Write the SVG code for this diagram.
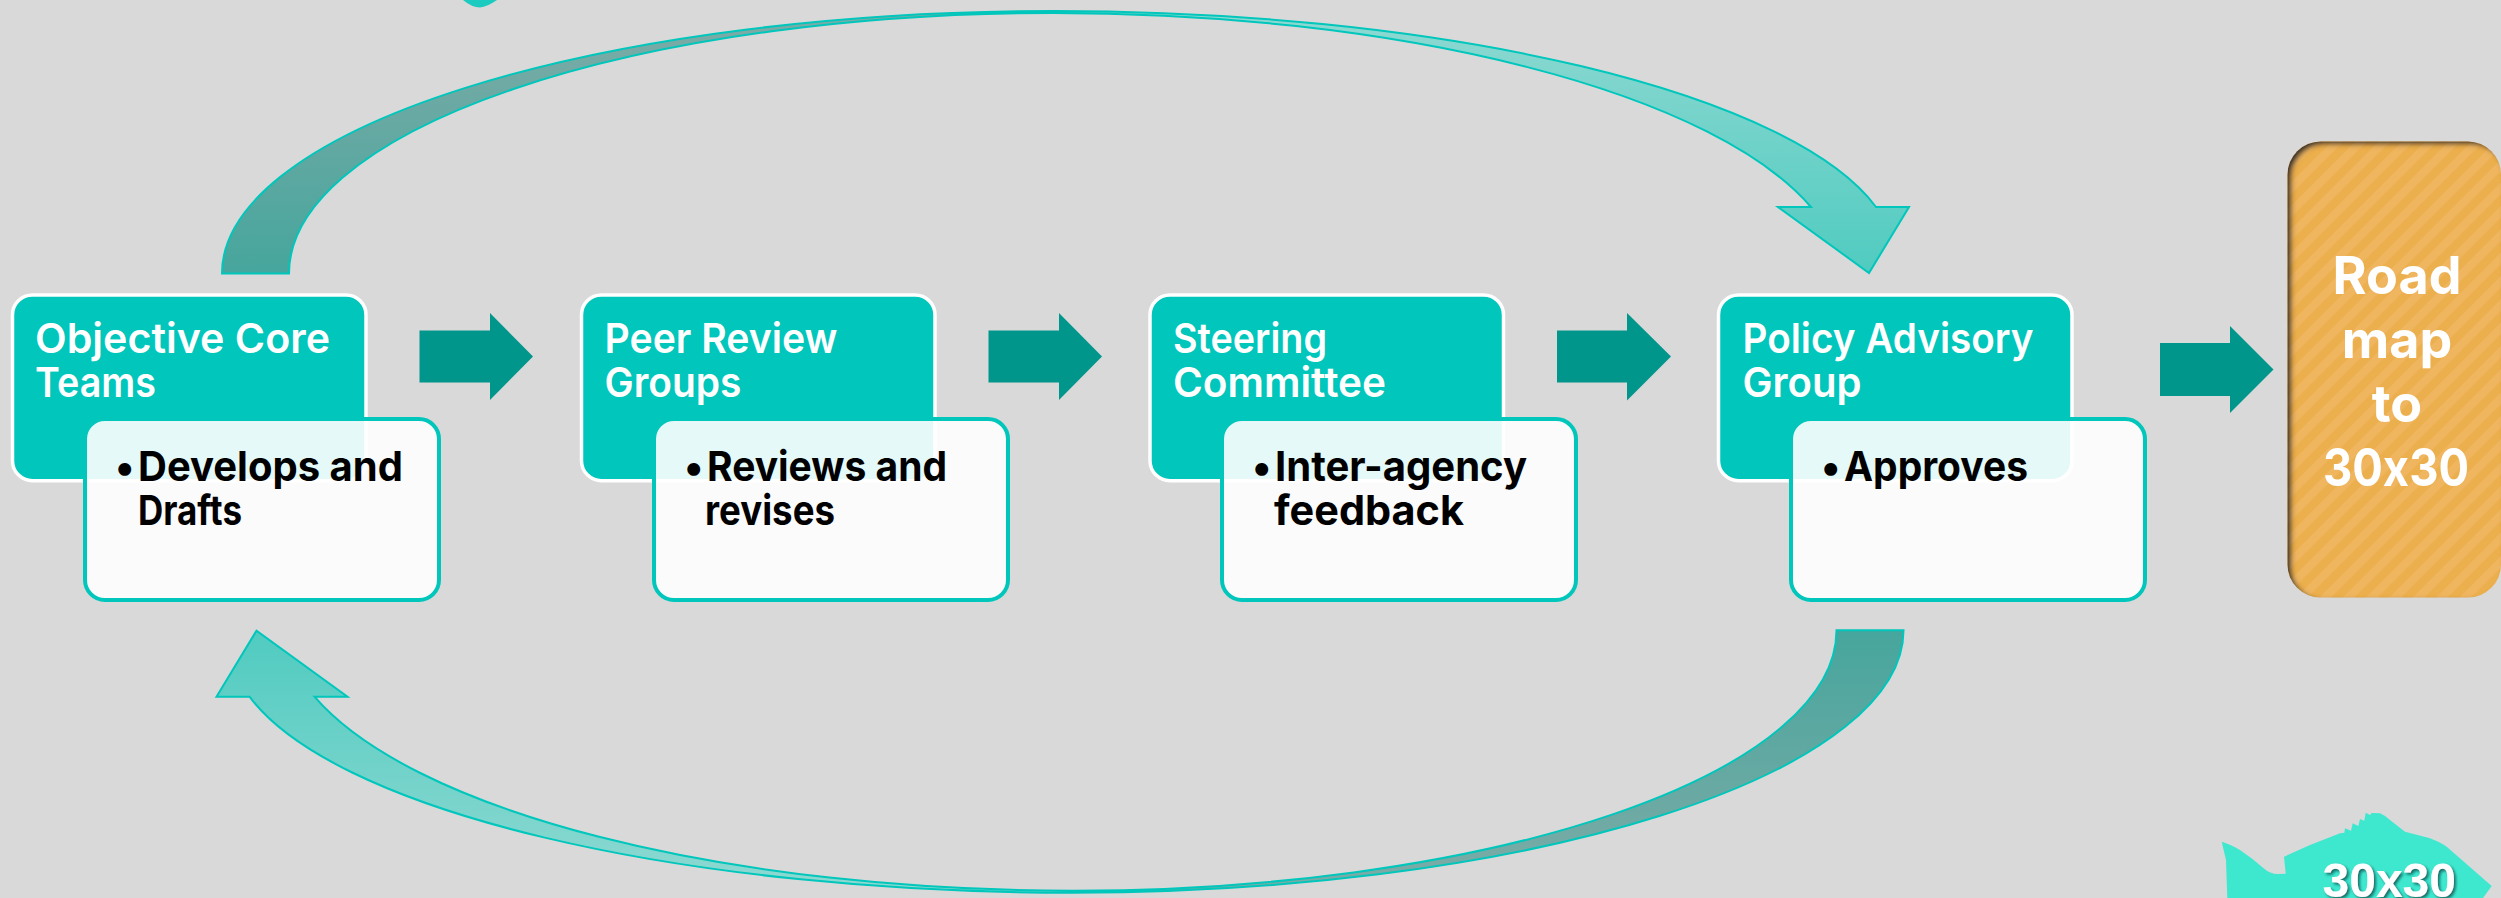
<svg xmlns="http://www.w3.org/2000/svg" width="2501" height="898" viewBox="0 0 2501 898">
<style>
.head{fill:#00C6BB;stroke:#FFFFFF;stroke-width:3.5}
.child{fill:#FFFFFF;fill-opacity:.894;stroke:#00C6BB;stroke-width:4}
.blk{fill:#00968C}
.t{font-family:"Inter","Noto Sans","Liberation Sans",sans-serif;font-feature-settings:"calt" 0;font-variant-ligatures:none}
.ht{font-size:41px;font-weight:600;fill:#FFFFFF}
.ct{font-size:41px;font-weight:700;fill:#000000}
.rt{font-size:52px;font-weight:700;fill:#FFFFFF;text-anchor:middle}
.fisht{font-family:"Liberation Sans",Arial,sans-serif;font-weight:700;font-size:48px;fill:#FFFFFF}
</style>
<defs>
<linearGradient id="gDark" gradientUnits="userSpaceOnUse" x1="0" y1="11" x2="0" y2="273"><stop offset="0" stop-color="#7FABA7"/><stop offset="1" stop-color="#46A69D"/></linearGradient>
<linearGradient id="gLight" gradientUnits="userSpaceOnUse" x1="0" y1="11" x2="0" y2="273"><stop offset="0" stop-color="#8FD9D2"/><stop offset="1" stop-color="#50CBC0"/></linearGradient>
<pattern id="stripes" width="16.5" height="16.5" patternUnits="userSpaceOnUse" patternTransform="rotate(45)"><rect width="16.5" height="16.5" fill="#ECAF4D"/><rect width="8.25" height="16.5" fill="#EFB55E"/></pattern>
<filter id="inner" x="-5%" y="-5%" width="110%" height="110%">
<feGaussianBlur in="SourceAlpha" stdDeviation="2.5"/><feOffset dx="4" dy="3" result="b"/>
<feComposite in="SourceAlpha" in2="b" operator="out" result="e"/>
<feFlood flood-color="#2E2E2E"/><feComposite in2="e" operator="in" result="s"/>
<feMerge><feMergeNode in="SourceGraphic"/><feMergeNode in="s"/></feMerge>
</filter>
<filter id="ts" x="-10%" y="-10%" width="120%" height="120%"><feDropShadow dx="2" dy="2" stdDeviation="1.5" flood-color="#0B5F58" flood-opacity=".9"/></filter>
<g id="curve">
<path fill="url(#gDark)" d="M222,273.5 A831,262.5 0 0 1 1053,11 L1053,13 A764,260.5 0 0 0 289,273.5 Z"/>
<path fill="url(#gLight)" d="M1053,11 A843,250 0 0 1 1876,207 L1909,207 L1869,273 L1778,207 L1811,207 A790,270 0 0 0 1053,13 Z"/>
<path fill="none" stroke="#00C6BB" stroke-width="2" d="M222,273.5 A831,262.5 0 0 1 1053,11 A843,250 0 0 1 1876,207 L1909,207 L1869,273 L1778,207 L1811,207 A790,270 0 0 0 1053,13 A764,260.5 0 0 0 289,273.5 Z"/>
</g>
</defs>
<rect width="2501" height="898" fill="#D9D9D9"/>
<path id="top-fragment" d="M463,0 Q472,7.5 480,7.5 Q487,7 497,0 Z" fill="#1CCBC0"/>
<g id="connectors">
<use href="#curve"/>
<use href="#curve" transform="rotate(180 1062.75 451.85)"/>
<path class="blk" d="M419.5,330.5H490V313L533,356.5L490,400V382.5H419.5Z"/>
<path class="blk" d="M988.5,330.5H1059V313L1102,356.5L1059,400V382.5H988.5Z"/>
<path class="blk" d="M1557,330.5H1627V313L1671,356.5L1627,400.5V382.5H1557Z"/>
<path class="blk" d="M2160,343H2230V326L2273.5,369.5L2230,413V396H2160Z"/>
</g>
<g id="node-core">
<rect class="head" x="12.5" y="295" width="353.5" height="185.7" rx="20"/>
<rect class="child" x="85" y="419" width="354" height="181" rx="20"/>
<text class="t ht" x="35" y="352.5" textLength="295" lengthAdjust="spacingAndGlyphs">Objective Core</text>
<text class="t ht" x="35" y="396.5" textLength="121" lengthAdjust="spacingAndGlyphs">Teams</text>
<text class="t ct" y="480.5"><tspan x="115">•</tspan><tspan x="138" textLength="265" lengthAdjust="spacingAndGlyphs">Develops and</tspan></text>
<text class="t ct" x="138" y="525" textLength="104" lengthAdjust="spacingAndGlyphs">Drafts</text>
</g>
<g id="node-peer">
<rect class="head" x="581.5" y="295" width="353.5" height="185.7" rx="20"/>
<rect class="child" x="654" y="419" width="354" height="181" rx="20"/>
<text class="t ht" x="604.5" y="352.5" textLength="233" lengthAdjust="spacingAndGlyphs">Peer Review</text>
<text class="t ht" x="604.5" y="396.5" textLength="137" lengthAdjust="spacingAndGlyphs">Groups</text>
<text class="t ct" y="480.5"><tspan x="684">•</tspan><tspan x="707" textLength="240" lengthAdjust="spacingAndGlyphs">Reviews and</tspan></text>
<text class="t ct" x="705" y="525" textLength="130" lengthAdjust="spacingAndGlyphs">revises</text>
</g>
<g id="node-steering">
<rect class="head" x="1150" y="295" width="353.5" height="185.7" rx="20"/>
<rect class="child" x="1222" y="419" width="354" height="181" rx="20"/>
<text class="t ht" x="1173" y="352.5" textLength="154" lengthAdjust="spacingAndGlyphs">Steering</text>
<text class="t ht" x="1173" y="396.5" textLength="213" lengthAdjust="spacingAndGlyphs">Committee</text>
<text class="t ct" y="480.5"><tspan x="1252">•</tspan><tspan x="1275" textLength="252" lengthAdjust="spacingAndGlyphs">Inter-agency</tspan></text>
<text class="t ct" x="1274" y="525" textLength="190" lengthAdjust="spacingAndGlyphs">feedback</text>
</g>
<g id="node-policy">
<rect class="head" x="1718.5" y="295" width="353.5" height="185.7" rx="20"/>
<rect class="child" x="1791" y="419" width="354" height="181" rx="20"/>
<text class="t ht" x="1742.5" y="352.5" textLength="291" lengthAdjust="spacingAndGlyphs">Policy Advisory</text>
<text class="t ht" x="1742.5" y="396.5" textLength="119" lengthAdjust="spacingAndGlyphs">Group</text>
<text class="t ct" y="481"><tspan x="1821">•</tspan><tspan x="1844" textLength="184" lengthAdjust="spacingAndGlyphs">Approves</tspan></text>
</g>
<g id="node-roadmap">
<rect x="2287.5" y="141.5" width="213.5" height="456" rx="33" fill="url(#stripes)" filter="url(#inner)"/>
<text class="t rt" x="2397" y="294">Road</text>
<text class="t rt" x="2397" y="358">map</text>
<text class="t rt" x="2397" y="422">to</text>
<text class="t rt" x="2396" y="486" textLength="146" lengthAdjust="spacingAndGlyphs">30x30</text>
</g>
<g id="node-fish">
<path fill="#3EE8CF" d="M2221.7,841.7 Q2230,844 2240,850 Q2252,858 2263.3,868 Q2270,874 2278,874 L2285.7,873.7 L2284,856.7 L2310,845 L2340,833.3 L2344.3,832.7 L2345,828.3 L2351,830.7 L2352.7,823.3 L2358.3,826 L2360,819 L2364.3,820.7 L2365.7,812.7 L2370,815 L2371.7,813 L2380,813.3 Q2386,816 2390,820 L2405,831.7 Q2418,835 2430,838.3 Q2440,842 2446.7,846.7 L2491.7,886 L2483,898 L2227.3,898 L2226,860 Z"/>
<text class="fisht" x="2322.5" y="897" filter="url(#ts)">30x30</text>
</g>
</svg>
